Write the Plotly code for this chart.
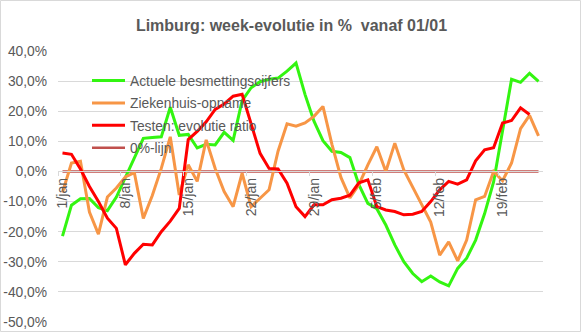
import plotly.graph_objects as go

# Categories: daily dates from 1 Jan to 23 Feb
categories = [f"{d}/jan" for d in range(1, 32)] + [f"{d}/feb" for d in range(1, 24)]

# Week-evolution in %
besmettingen = [
    -21.5, -11.2, -9.1, -9.0, -12.0, -13.0, -8.5, -2.0, 5.0, 11.0,
    11.3, 11.5, 21.3, 12.0, 12.3, 7.8, 9.0, 8.8, 13.0, 10.3,
    23.5, 27.8, 29.8, 30.6, 31.0, 33.3, 36.0, 25.6, 16.7, 10.2,
    6.7, 6.3, 4.6, -4.4, -10.6, -12.4, -17.8, -24.4, -30.0, -33.9,
    -36.6, -34.7, -36.7, -38.0, -32.2, -28.8, -22.8, -14.0, -3.5, 14.0,
    30.6, 29.6, 32.6, 29.9,
]
ziekenhuis = [
    -7.0, 2.8, 3.4, -13.5, -20.8, -8.5, -5.5, -1.8, -0.4, -15.6,
    -8.0, 1.0, 11.5, -7.8, 2.2, -3.3, 10.5, 1.0, -6.7, -11.7,
    -0.6, -11.7, -8.9, -6.1, 6.7, 15.8, 15.0, 16.1, 18.3, 21.6,
    9.0, -2.0, -8.8, -4.4, 2.2, 8.2, 0.0, 9.4, 0.5, -5.5,
    -11.0, -16.8, -27.8, -23.4, -29.7, -22.8, -9.4, -8.3, 0.0, -3.1,
    2.8, 14.2, 18.6, 11.8,
]
testen_ratio = [
    6.1, 5.7, 0.8, -5.0, -10.0, -15.5, -18.9, -31.0, -27.2, -24.2,
    -24.4, -20.0, -16.5, -12.3, 10.6, 13.3, 16.5, 20.6, 22.4, 25.0,
    25.6, 15.5, 6.0, 1.0, 0.8, -3.9, -11.7, -15.0, -11.1, -11.1,
    -9.4, -8.9, -7.9, -3.8, -2.8, -11.7, -12.8, -13.3, -14.4, -14.2,
    -13.3, -10.0, -6.1, -3.3, -4.2, -2.8, 3.5, 7.2, 7.9, 16.1,
    16.9, 21.1, 18.9, None,
]
nul_lijn = [0.0] * len(categories)

y_tickvals = [-50, -40, -30, -20, -10, 0, 10, 20, 30, 40]
y_ticktext = ["-50,0%", "-40,0%", "-30,0%", "-20,0%", "-10,0%",
              "0,0%", "10,0%", "20,0%", "30,0%", "40,0%"]

title_text = "Limburg: week-evolutie in %  vanaf 01/01"

FONT = "Liberation Sans"
GREY = "#595959"

fig = go.Figure()
fig.add_trace(go.Scatter(x=categories, y=nul_lijn, mode="lines", name="0%-lijn",
                         line=dict(color="#C0504D", width=2.6), legendrank=4,
                         legendgroup="d"))
fig.add_trace(go.Scatter(x=categories, y=besmettingen, mode="lines",
                         name="Actuele besmettingscijfers",
                         line=dict(color="#33F511", width=3), legendrank=1,
                         legendgroup="a"))
fig.add_trace(go.Scatter(x=categories, y=ziekenhuis, mode="lines",
                         name="Ziekenhuis-opname",
                         line=dict(color="#F79646", width=3), legendrank=2,
                         legendgroup="b"))
fig.add_trace(go.Scatter(x=categories, y=testen_ratio, mode="lines",
                         name="Testen: evolutie ratio",
                         line=dict(color="#FF0000", width=3), legendrank=3,
                         legendgroup="c"))

W, H = 581, 332
ml, mr, mt, mb = 58, 38, 51, 10
pw, ph = W - ml - mr, H - mt - mb


def px_to_paper_x(px):
    return (px - ml) / pw


def px_to_paper_y(py):
    return (H - mb - py) / ph


fig.update_layout(
    width=W, height=H,
    autosize=False,
    margin=dict(l=ml, r=mr, t=mt, b=mb, pad=0, autoexpand=False),
    paper_bgcolor="white", plot_bgcolor="white",
    font=dict(family=FONT, color=GREY, size=13.8),
    title=dict(text=title_text, x=px_to_paper_x(291.5), xref="paper", xanchor="center",
               y=1 - 25 / H, yref="container", yanchor="middle",
               font=dict(family=FONT, size=16, color=GREY, weight="bold")),
    showlegend=True,
    legend=dict(x=px_to_paper_x(87), y=px_to_paper_y(65), xanchor="left", yanchor="top",
                bgcolor="rgba(0,0,0,0)", font=dict(family=FONT, size=13.8, color=GREY),
                tracegroupgap=1.5, itemwidth=33),
    shapes=[dict(type="rect", xref="paper", yref="paper",
                 x0=px_to_paper_x(0.5), x1=px_to_paper_x(580.5),
                 y0=px_to_paper_y(331.5), y1=px_to_paper_y(0.5),
                 line=dict(color="#D9D9D9", width=1), layer="below")],
)

fig.update_xaxes(type="category", tickmode="linear", tick0=0, dtick=7,
                 tickson="boundaries", ticks="outside", ticklen=4, tickcolor="#D9D9D9",
                 tickangle=-90, showgrid=False, showline=True, linecolor="#D9D9D9",
                 anchor="free", position=50 / 90, range=[-0.5, len(categories) - 0.5],
                 tickfont=dict(family=FONT, size=14, color=GREY), zeroline=False,
                 automargin=False)
fig.update_yaxes(range=[-50, 40], tickmode="array", tickvals=y_tickvals, ticktext=y_ticktext,
                 showgrid=True, gridcolor="#D9D9D9", gridwidth=1, zeroline=False,
                 showline=False, ticks="", ticklabelstandoff=10, automargin=False,
                 tickfont=dict(family=FONT, size=13.8, color=GREY))

fig.write_html("out.html")
